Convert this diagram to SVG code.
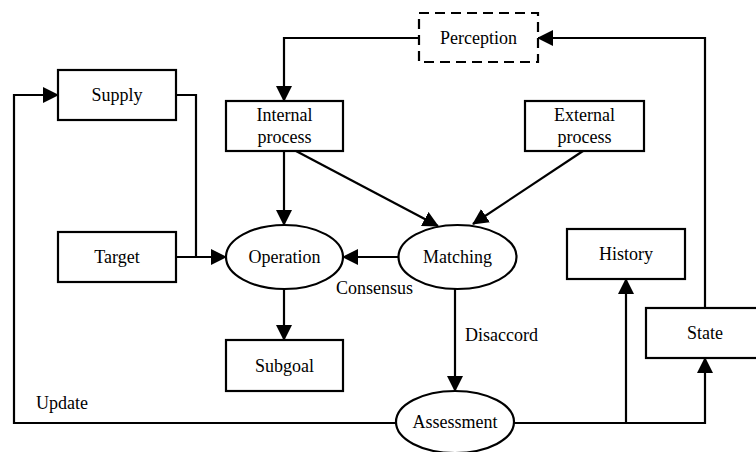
<svg xmlns="http://www.w3.org/2000/svg" width="756" height="452" viewBox="0 0 756 452">
<defs>
<marker id="arr" markerUnits="userSpaceOnUse" markerWidth="16" markerHeight="16" refX="15" refY="8" orient="auto">
<path d="M0,0 L16,8 L0,16 z" fill="#000"/>
</marker>
<style>
.box{fill:#fff;stroke:#000;stroke-width:2.2}
.dash{fill:#fff;stroke:#000;stroke-width:2.2;stroke-dasharray:10 6}
.ell{fill:#fff;stroke:#000;stroke-width:2.2}
.ln{fill:none;stroke:#000;stroke-width:2.2}
.a{marker-end:url(#arr)}
text{font-family:"Liberation Serif","Times New Roman",serif;font-size:18px;fill:#000}
.c{text-anchor:middle}
</style>
</defs>
<rect width="756" height="452" fill="#fff"/>
<g id="connectors">
<path class="ln a" d="M419,38 H284 V101"/>
<path class="ln a" d="M705,308 V38 H538"/>
<path class="ln" d="M176,95 H196 V257"/>
<path class="ln a" d="M176,257 H226"/>
<path class="ln a" d="M396,423 H14 V95 H58"/>
<path class="ln a" d="M284,151 V225"/>
<path class="ln a" d="M296,151 L438,226"/>
<path class="ln a" d="M583,151 L473,224"/>
<path class="ln a" d="M398,257 H343"/>
<path class="ln a" d="M284,289 V340"/>
<path class="ln a" d="M455,289 V391"/>
<path class="ln a" d="M514,423 H705 V358"/>
<path class="ln a" d="M626,423 V279"/>
</g>
<g id="perception"><rect class="dash" x="419" y="13" width="119" height="49"/><text class="c" x="478.5" y="44">Perception</text></g>
<g id="supply"><rect class="box" x="58" y="70" width="118" height="50"/><text class="c" x="117" y="101">Supply</text></g>
<g id="internal"><rect class="box" x="226" y="101" width="117" height="50"/><text class="c" x="284.5" y="121">Internal</text><text class="c" x="284.5" y="143">process</text></g>
<g id="external"><rect class="box" x="525" y="101" width="119" height="50"/><text class="c" x="584.5" y="121">External</text><text class="c" x="584.5" y="143">process</text></g>
<g id="target"><rect class="box" x="58" y="232" width="118" height="50"/><text class="c" x="117" y="263">Target</text></g>
<g id="operation"><ellipse class="ell" cx="284.5" cy="257" rx="58.5" ry="32"/><text class="c" x="284.5" y="263">Operation</text></g>
<g id="matching"><ellipse class="ell" cx="457.5" cy="257" rx="59" ry="32"/><text class="c" x="457.5" y="263">Matching</text></g>
<g id="subgoal"><rect class="box" x="226" y="340" width="117" height="51"/><text class="c" x="284.5" y="372">Subgoal</text></g>
<g id="history"><rect class="box" x="567" y="229" width="118" height="50"/><text class="c" x="626" y="260">History</text></g>
<g id="state"><rect class="box" x="646" y="308" width="118" height="50"/><text class="c" x="705" y="339">State</text></g>
<g id="assessment"><ellipse class="ell" cx="455" cy="422" rx="59" ry="31"/><text class="c" x="455" y="428">Assessment</text></g>
<g id="labels">
<text x="336" y="294">Consensus</text>
<text x="465" y="341">Disaccord</text>
<text x="36" y="409">Update</text>
</g>
</svg>
